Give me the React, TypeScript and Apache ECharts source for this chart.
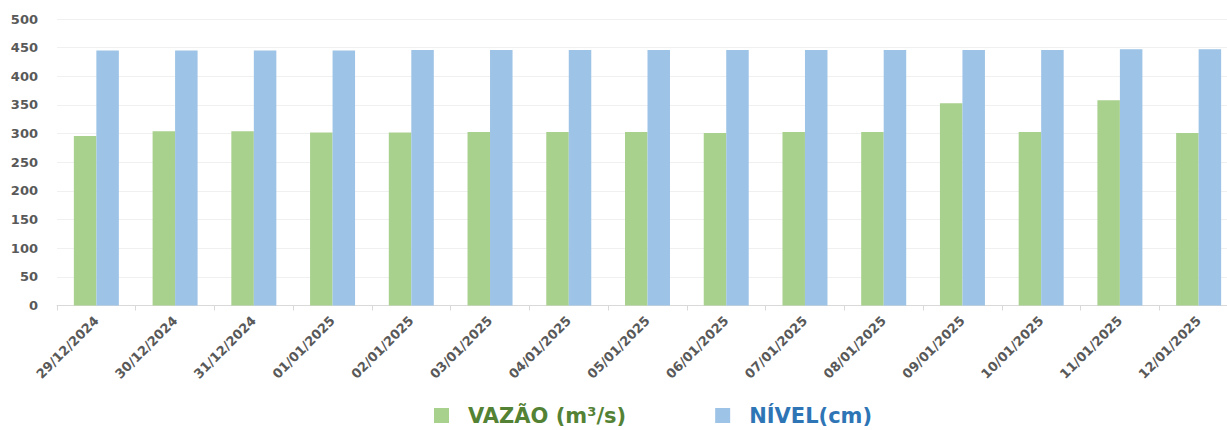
import React, { useEffect, useRef } from "react";
import * as echarts from "echarts";

const categories = [
  "29/12/2024", "30/12/2024", "31/12/2024", "01/01/2025", "02/01/2025",
  "03/01/2025", "04/01/2025", "05/01/2025", "06/01/2025", "07/01/2025",
  "08/01/2025", "09/01/2025", "10/01/2025", "11/01/2025", "12/01/2025",
];
const vazao = [296, 304, 304, 302, 302, 303, 303, 303, 301, 303, 303, 353, 303, 358, 301];
const nivel = [445, 445, 445, 445, 446, 446, 446, 446, 446, 446, 446, 446, 446, 447, 447];
const yTicks = { min: 0, max: 500, interval: 50 };

const FONT = "DejaVu Sans";

export default function App() {
  const ref = useRef<HTMLDivElement>(null);
  useEffect(() => {
    if (!ref.current) return;
    const chart = echarts.init(ref.current, undefined, { renderer: "svg" });
    chart.setOption({
      animation: false,
      backgroundColor: "#ffffff",
      grid: { left: 57, top: 19, width: 1181, height: 286.5 },
      legend: {
        left: 429,
        top: 400,
        itemWidth: 15,
        itemHeight: 15,
        itemGap: 89,
        icon: "rect",
        data: [
          { name: "VAZÃO (m³/s)", textStyle: { color: "#548235" } },
          { name: "NÍVEL(cm)", textStyle: { color: "#2e75b6" } },
        ],
        textStyle: {
          fontFamily: FONT,
          fontWeight: "bold",
          fontSize: 21,
          padding: [0, 0, 0, 14],
        },
      },
      xAxis: {
        type: "category",
        data: categories,
        boundaryGap: true,
        axisLine: { lineStyle: { color: "#d9d9d9", width: 1 } },
        axisTick: { show: true, length: 5, lineStyle: { color: "#d9d9d9" } },
        axisLabel: {
          rotate: 45,
          interval: 0,
          margin: 13,
          color: "#595959",
          fontFamily: FONT,
          fontWeight: "bold",
          fontSize: 13,
        },
      },
      yAxis: {
        type: "value",
        min: yTicks.min,
        max: yTicks.max,
        interval: yTicks.interval,
        axisLine: { show: false },
        axisTick: { show: false },
        splitLine: { lineStyle: { color: "#f0f0f0", width: 1 } },
        axisLabel: {
          margin: 19,
          color: "#595959",
          fontFamily: FONT,
          fontWeight: "bold",
          fontSize: 13,
        },
      },
      series: [
        {
          name: "VAZÃO (m³/s)",
          type: "bar",
          data: vazao,
          barWidth: 22.5,
          barGap: "0%",
          itemStyle: { color: "#a9d18e" },
        },
        {
          name: "NÍVEL(cm)",
          type: "bar",
          data: nivel,
          barWidth: 22.5,
          barGap: "0%",
          itemStyle: { color: "#9dc3e6" },
        },
      ],
    });
    return () => chart.dispose();
  }, []);
  return (
    <div
      style={{
        position: "absolute",
        left: 0,
        top: 0,
        width: 1227,
        height: 430,
        overflow: "hidden",
        background: "#ffffff",
      }}
    >
      <div ref={ref} style={{ width: 1245, height: 430 }} />
    </div>
  );
}
